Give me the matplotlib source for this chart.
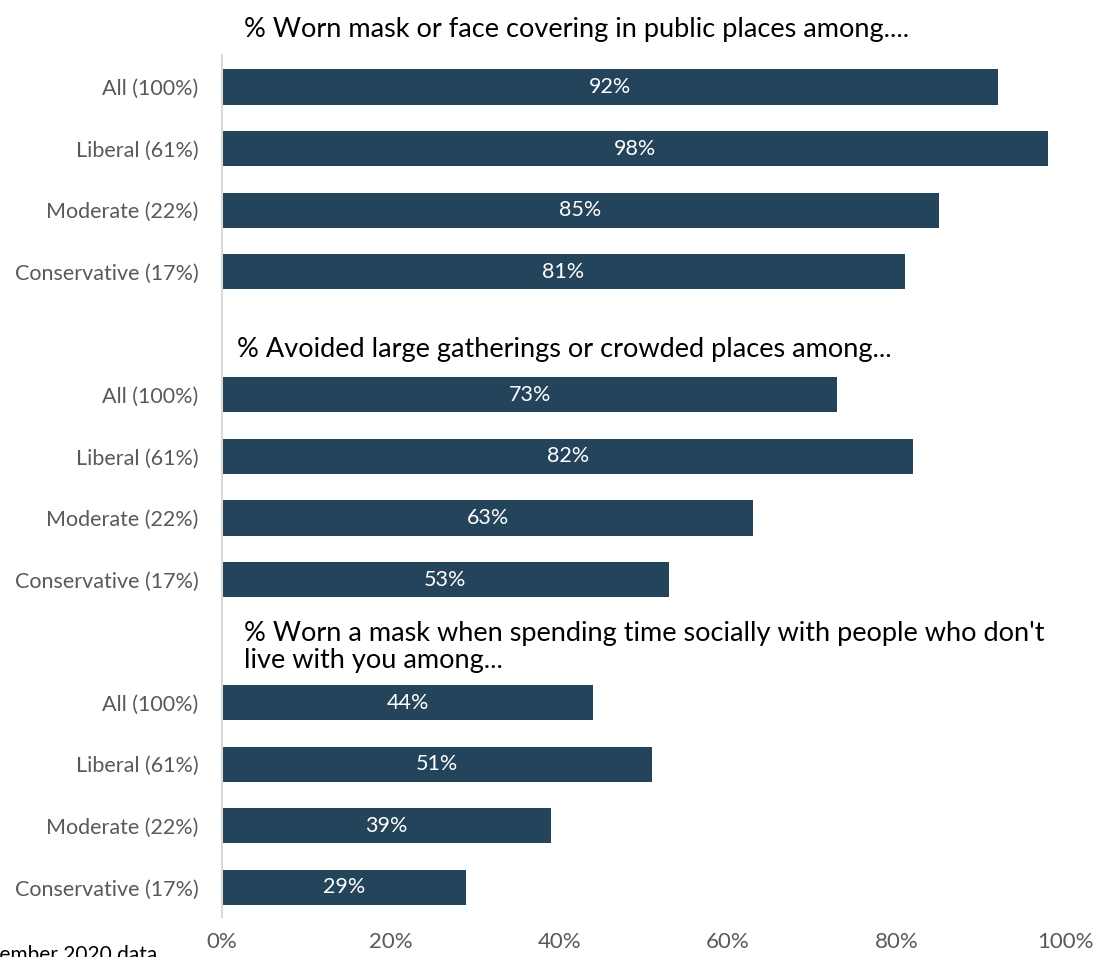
import matplotlib.pyplot as plt
from matplotlib.ticker import PercentFormatter

groups = [
	"% Worn mask or face covering in public places among....",
	"% Avoided large gatherings or crowded places among...",
	"% Worn a mask when spending time socially with people who don't\nlive with you among...",
]
categories = ["All (100%)", "Liberal (61%)", "Moderate (22%)", "Conservative (17%)"]
mask_public = [92, 98, 85, 81]
avoid_crowds = [73, 82, 63, 53]
mask_social = [44, 51, 39, 29]
x_ticks = [0, 20, 40, 60, 80, 100]
footnote = "November 2020 data"

BAR = "#23445a"
GREY = "#595959"
plt.rcParams['font.family'] = ['Lato', 'DejaVu Sans']

fig = plt.figure(figsize=(10.96, 9.57), dpi=100)
ax = fig.add_axes([222 / 1096, 1 - 917 / 957, (1065 - 222) / 1096, (917 - 55) / 957])

series = [mask_public, avoid_crowds, mask_social]
positions, labels = [], []
for g, values in enumerate(series):
	ys = [g * 5 + r for r in range(len(values))]
	ax.barh(ys, values, height=0.57, color=BAR)
	for y, v in zip(ys, values):
		ax.text(v / 2, y, f"{v}%", color="white", ha="center", va="center", fontsize=15.5)
	positions += ys
	labels += categories

# section headings sit in the gap above each block
title_pos = [(2.6, -0.93), (1.8, 4.27), (2.6, 9.09)]
for text, (x, y) in zip(groups, title_pos):
	ax.text(x, y, text, ha="left", va="center", fontsize=19.5, color="black",
		clip_on=False, linespacing=1.1)

ax.set_xlim(0, 100)
ax.set_ylim(13.48, -0.52)
ax.set_yticks(positions)
ax.set_yticklabels(labels, color=GREY, fontsize=15.5)
ax.set_xticks(x_ticks)
ax.xaxis.set_major_formatter(PercentFormatter(decimals=0))
ax.tick_params(axis="x", length=0, pad=11, labelsize=16, labelcolor=GREY)
ax.tick_params(axis="y", length=0, pad=17)
for side in ["top", "right", "bottom"]:
	ax.spines[side].set_visible(False)
ax.spines["left"].set_color("#d9d9d9")
ax.spines["left"].set_linewidth(1.5)

fig.text(157 / 1096, 1 - 955 / 957, footnote, ha="right", va="center", fontsize=15, color="black")

fig.savefig("out.png", dpi=100)
